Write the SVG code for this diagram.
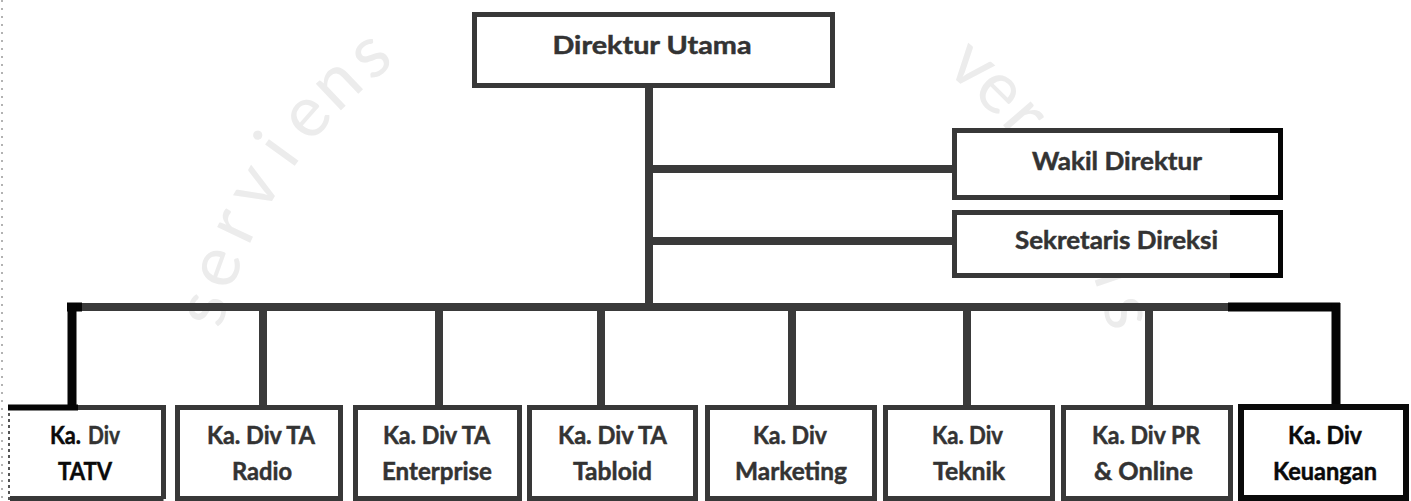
<svg xmlns="http://www.w3.org/2000/svg" width="1411" height="501" viewBox="0 0 1411 501">
<style>
  .box{fill:#ffffff;stroke:#383838;stroke-width:5}
  .boxk{fill:#ffffff;stroke:#0a0a0a;stroke-width:6}
  .lbl{font-family:Lato,"Open Sans","Liberation Sans",sans-serif;font-weight:bold;font-size:25px;fill:#333333;stroke:#333333;stroke-width:0.5;text-anchor:middle}
  .lblk{fill:#0a0a0a;stroke:#0a0a0a}
  .st{text-anchor:start}
  .ln{fill:none;stroke:#3a3a3a;stroke-width:8;stroke-linecap:butt}
  .lnk{fill:none;stroke:#050505;stroke-width:9}
  .edge{fill:none;stroke:#050505;stroke-width:5}
  .wm{font-family:Lato,"Liberation Sans",sans-serif;font-size:72px;fill:#ececec;text-anchor:middle}
</style>
<rect x="0" y="0" width="1411" height="501" fill="#ffffff"/>
<g id="watermark">
  <text class="wm" x="224.9" y="314.5" transform="rotate(-75.3 224.9 314.5)">s</text>
  <text class="wm" x="237.4" y="274.4" transform="rotate(-70 237.4 274.4)">e</text>
  <text class="wm" x="253.6" y="235.5" transform="rotate(-64.7 253.6 235.5)">r</text>
  <text class="wm" x="273.4" y="198.4" transform="rotate(-59.4 273.4 198.4)">v</text>
  <text class="wm" x="296.5" y="163.2" transform="rotate(-54.1 296.5 163.2)">i</text>
  <text class="wm" x="322.7" y="130.3" transform="rotate(-48.8 322.7 130.3)">e</text>
  <text class="wm" x="351.8" y="99.9" transform="rotate(-43.5 351.8 99.9)">n</text>
  <text class="wm" x="383.6" y="72.3" transform="rotate(-38.2 383.6 72.3)">s</text>
  <text class="wm" x="958.1" y="82" transform="rotate(40.1 958.1 82)">v</text>
  <text class="wm" x="984.5" y="106" transform="rotate(44.6 984.5 106)">e</text>
  <text class="wm" x="1008.4" y="131.5" transform="rotate(49 1008.4 131.5)">r</text>
  <text class="wm" x="1095.7" y="283.4" transform="rotate(71.2 1095.7 283.4)">i</text>
  <text class="wm" x="1105.9" y="317.6" transform="rotate(75.7 1105.9 317.6)">s</text>
  <line x1="2" y1="0" x2="2" y2="501" stroke="#9a9a9a" stroke-width="1.5" stroke-dasharray="2 6"/>
</g>
<g id="connectors">
  <path class="ln" d="M649,88 V307"/>
  <path class="ln" d="M649,169 H952" stroke-width="9"/>
  <path class="ln" d="M649,241 H952" stroke-width="9"/>
  <path class="ln" d="M72,307 H1336" stroke-width="9"/>
  <path class="ln" d="M263,307 V406"/>
  <path class="ln" d="M439,307 V406"/>
  <path class="ln" d="M601,307 V406"/>
  <path class="ln" d="M792,307 V406"/>
  <path class="ln" d="M967,307 V406"/>
  <path class="ln" d="M1149,307 V406"/>
  <path class="lnk" d="M67,307 H82"/>
  <path class="lnk" d="M1228,307 H1340"/>
  <path class="lnk" d="M72,303 V407" stroke-width="10"/>
  <path class="lnk" d="M1336,303 V405"/>
</g>
<g id="n-direktur">
  <rect class="box" x="474.5" y="14.5" width="358" height="71"/>
  <text class="lbl" x="652" y="54" textLength="199" lengthAdjust="spacingAndGlyphs">Direktur Utama</text>
</g>
<g id="n-wakil">
  <rect class="box" x="954.5" y="130.5" width="326" height="67"/>
  <path class="edge" d="M1230,130.5 H1280.5 V197.5 H1230"/>
  <text class="lbl" x="1117" y="170" textLength="170" lengthAdjust="spacingAndGlyphs">Wakil Direktur</text>
</g>
<g id="n-sekretaris">
  <rect class="box" x="954.5" y="212.5" width="326" height="63"/>
  <path class="edge" d="M1230,212.5 H1280.5 V275.5 H1230"/>
  <text class="lbl" x="1116.5" y="249" textLength="203" lengthAdjust="spacingAndGlyphs">Sekretaris Direksi</text>
</g>
<g id="n-tatv">
  <path d="M77,407.5 H163.5 V499 M163.5,498.5 H10" fill="none" stroke="#383838" stroke-width="5"/>
  <line x1="9" y1="407" x2="9" y2="501" stroke="#555555" stroke-width="2" stroke-dasharray="3 3"/>
  <path d="M8,407.5 H78" fill="none" stroke="#050505" stroke-width="6"/>
  <text class="lbl lblk st" x="50" y="444" textLength="31" lengthAdjust="spacingAndGlyphs">Ka.</text>
  <text class="lbl st" x="88" y="444" textLength="32" lengthAdjust="spacingAndGlyphs">Div</text>
  <text class="lbl lblk" x="85" y="480" textLength="54" lengthAdjust="spacingAndGlyphs">TATV</text>
</g>
<g id="n-radio">
  <rect class="box" x="177.5" y="407.5" width="163" height="91"/>
  <text class="lbl" x="261" y="444" textLength="108" lengthAdjust="spacingAndGlyphs">Ka. Div TA</text>
  <text class="lbl" x="262" y="480" textLength="60" lengthAdjust="spacingAndGlyphs">Radio</text>
</g>
<g id="n-enterprise">
  <rect class="box" x="355.5" y="407.5" width="164" height="91"/>
  <text class="lbl" x="436.5" y="444" textLength="107" lengthAdjust="spacingAndGlyphs">Ka. Div TA</text>
  <text class="lbl" x="437" y="480" textLength="110" lengthAdjust="spacingAndGlyphs">Enterprise</text>
</g>
<g id="n-tabloid">
  <rect class="box" x="529.5" y="407.5" width="166" height="91"/>
  <text class="lbl" x="612.5" y="444" textLength="109" lengthAdjust="spacingAndGlyphs">Ka. Div TA</text>
  <text class="lbl" x="612.5" y="480" textLength="79" lengthAdjust="spacingAndGlyphs">Tabloid</text>
</g>
<g id="n-marketing">
  <rect class="box" x="707.5" y="407.5" width="167" height="91"/>
  <text class="lbl" x="790" y="444" textLength="74" lengthAdjust="spacingAndGlyphs">Ka. Div</text>
  <text class="lbl" x="791" y="480" textLength="112" lengthAdjust="spacingAndGlyphs">Marketing</text>
</g>
<g id="n-teknik">
  <rect class="box" x="885.5" y="407.5" width="167" height="91"/>
  <text class="lbl" x="967.5" y="444" textLength="71" lengthAdjust="spacingAndGlyphs">Ka. Div</text>
  <text class="lbl" x="969" y="480" textLength="72" lengthAdjust="spacingAndGlyphs">Teknik</text>
</g>
<g id="n-pr">
  <rect class="box" x="1063.5" y="407.5" width="167" height="91"/>
  <text class="lbl" x="1146" y="444" textLength="108" lengthAdjust="spacingAndGlyphs">Ka. Div PR</text>
  <text class="lbl" x="1143.5" y="480" textLength="99" lengthAdjust="spacingAndGlyphs">&amp; Online</text>
</g>
<g id="n-keuangan">
  <rect class="boxk" x="1241" y="407" width="165" height="91"/>
  <text class="lbl lblk" x="1325" y="444" textLength="74" lengthAdjust="spacingAndGlyphs">Ka. Div</text>
  <text class="lbl lblk" x="1325" y="480" textLength="104" lengthAdjust="spacingAndGlyphs">Keuangan</text>
</g>
</svg>
